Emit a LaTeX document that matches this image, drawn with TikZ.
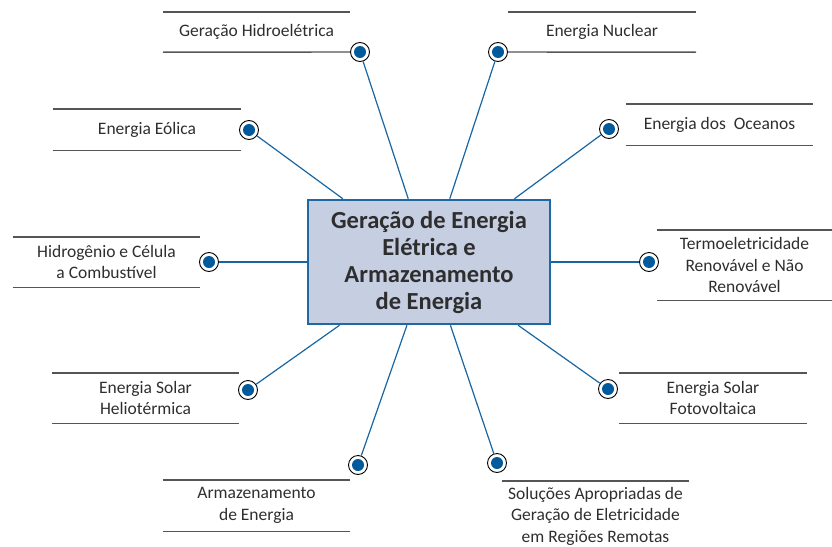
\documentclass[tikz,border=0pt]{standalone}
\usepackage{fontspec}
\setmainfont{Carlito}
\usetikzlibrary{calc}

\definecolor{linkblue}{HTML}{1766A3}
\definecolor{dotblue}{HTML}{005A9C}
\definecolor{hubfill}{HTML}{C6CEE2}
\definecolor{hubedge}{HTML}{1F68A6}
\definecolor{textgrey}{HTML}{2E2E2E}
\definecolor{rulegrey}{HTML}{555555}

\begin{document}
\begin{tikzpicture}[
            x = 1pt, y = -1pt, % pixel grid, origin top left
            link/.style = {draw = linkblue, line width = 1.2pt}, % hub connectors
            rule/.style = {draw = rulegrey, line width = 1.4pt} % label rules
            ]

        \tikzstyle{hub}=[
            draw = hubedge,
            fill = hubfill,
            line width = 2.5pt,
            minimum width = 242pt,
            minimum height = 124pt,
            align = center,
            text = textgrey,
            font = \bfseries\fontsize{24.5}{27}\selectfont
        ]
        \tikzstyle{dot}=[
            circle,
            draw = black,
            line width = 0.9pt,
            fill = white,
            minimum size = 19pt,
            inner sep = 0pt,
            path picture = {\fill[dotblue] (path picture bounding box.center) circle (6pt);}
        ]
        \tikzstyle{lbl}=[
            inner sep = 0pt,
            align = center,
            text = textgrey,
            font = \fontsize{17.5}{21.5}\selectfont
        ]

        \useasboundingbox (0,0) rectangle (832,546);

        % centre
        \node[hub] (hub) at (429,262) {Geração de Energia\\Elétrica e\\Armazenamento\\de Energia};

        % markers
        \node[dot] (mHid) at (360,52) {};
        \node[dot] (mNuc) at (498,52) {};
        \node[dot] (mEol) at (249,130) {};
        \node[dot] (mOce) at (609,129) {};
        \node[dot] (mHyd) at (209,262) {};
        \node[dot] (mTer) at (649,262) {};
        \node[dot] (mHel) at (248,390) {};
        \node[dot] (mFot) at (608,389) {};
        \node[dot] (mArm) at (358,465) {};
        \node[dot] (mSol) at (497,463) {};

        \path[link] (mHid) edge (hub);
        \path[link] (mNuc) edge (hub);
        \path[link] (mEol) edge (hub);
        \path[link] (mOce) edge (hub);
        \path[link] (mHyd) edge (hub);
        \path[link] (mTer) edge (hub);
        \path[link] (mHel) edge (hub);
        \path[link] (mFot) edge (hub);
        \path[link] (mArm) edge (hub);
        \path[link] (mSol) edge (hub);

        % labels
        \node[lbl, minimum width = 187pt, minimum height = 40pt] (lHid) at (256.5,32) {Geração Hidroelétrica};
        \node[lbl, minimum width = 188pt, minimum height = 40pt] (lNuc) at (602,32) {Energia Nuclear};
        \node[lbl, minimum width = 188pt, minimum height = 41pt] (lEol) at (147,129.5) {Energia Eólica};
        \node[lbl, minimum width = 187pt, minimum height = 41pt] (lOce) at (719.5,124.5) {Energia dos\ \ Oceanos};
        \node[lbl, minimum width = 187pt, minimum height = 50pt] (lHyd) at (106.5,262) {Hidrogênio e Célula\\a Combustível};
        \node[lbl, minimum width = 175pt, minimum height = 70pt] (lTer) at (744.5,265) {Termoeletricidade\\Renovável e Não\\Renovável};
        \node[lbl, minimum width = 187pt, minimum height = 50pt] (lHel) at (145.5,398) {Energia Solar\\Heliotérmica};
        \node[lbl, minimum width = 188pt, minimum height = 50pt] (lFot) at (713,398) {Energia Solar\\Fotovoltaica};
        \node[lbl, minimum width = 187pt, minimum height = 51pt] (lArm) at (256.5,505.5) {Armazenamento\\de Energia};
        \node[lbl, minimum width = 187pt, minimum height = 70pt] (lSol) at (595.5,516) {Soluções Apropriadas de\\Geração de Eletricidade\\em Regiões Remotas};

        % rules
        \draw[rule] (lHid.north west) -- (lHid.north east);
        \draw[rule] (lHid.south west) -- (mHid);
        \draw[rule] (lNuc.north west) -- (lNuc.north east);
        \draw[rule] (mNuc) -- (lNuc.south east);
        \draw[rule] (lEol.north west) -- (lEol.north east) (lEol.south west) -- (lEol.south east);
        \draw[rule] (lOce.north west) -- (lOce.north east) (lOce.south west) -- (lOce.south east);
        \draw[rule] (lHyd.north west) -- (lHyd.north east) (lHyd.south west) -- (lHyd.south east);
        \draw[rule] (lTer.north west) -- (lTer.north east) (lTer.south west) -- (lTer.south east);
        \draw[rule] (lHel.north west) -- (lHel.north east) (lHel.south west) -- (lHel.south east);
        \draw[rule] (lFot.north west) -- (lFot.north east) (lFot.south west) -- (lFot.south east);
        \draw[rule] (lArm.north west) -- (lArm.north east) (lArm.south west) -- (lArm.south east);
        \draw[rule] (lSol.north west) -- (lSol.north east);

  \end{tikzpicture}
\end{document}
